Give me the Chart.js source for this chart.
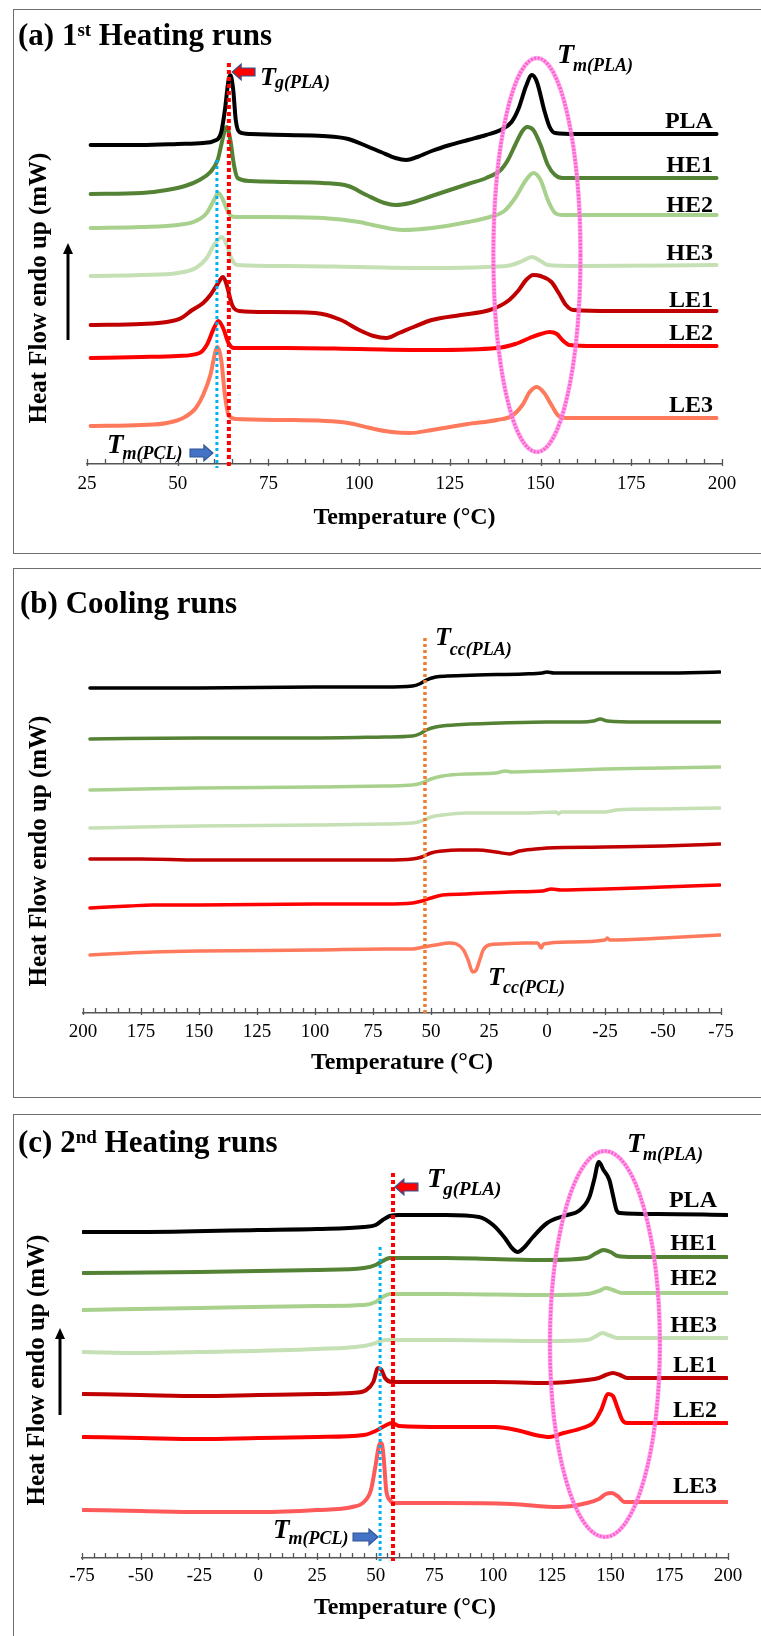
<!DOCTYPE html>
<html>
<head>
<meta charset="utf-8">
<title>DSC curves</title>
<script src="https://cdn.jsdelivr.net/npm/chart.js@4.4.1/dist/chart.umd.min.js"></script>
<style>
  html, body { margin: 0; padding: 0; background: #fff; }
  body { width: 761px; height: 1636px; position: relative; overflow: hidden; }
  .panel { position: absolute; left: 13px; width: 760px; border: 1.5px solid #6e6e6e; box-sizing: border-box; }
  canvas { position: absolute; left: 0; }
</style>
</head>
<body>
<div class="panel" style="top:9px;height:545px"></div>
<div class="panel" style="top:568px;height:530px"></div>
<div class="panel" style="top:1114px;height:540px"></div>
<canvas id="heat1" width="761" height="544" style="top:9px"></canvas>
<canvas id="cooling" width="761" height="529" style="top:568px"></canvas>
<canvas id="heat2" width="761" height="522" style="top:1114px"></canvas>

<script>
const SERIF = "'Liberation Serif', 'Times New Roman', Times, serif";

const SAMPLES = ['PLA', 'HE1', 'HE2', 'HE3', 'LE1', 'LE2', 'LE3'];
const COLORS = ['#000000', '#548235', '#a9d18e', '#c5e0b4', '#c00000', '#ff0000', '#ff7a5c'];
const COLORS_2ND = ['#000000', '#548235', '#a9d18e', '#c5e0b4', '#c00000', '#ff0000', '#ff5a5a'];

// (a) 1st heating, [temperature °C, heat flow a.u. (offset curves)]
const h1PLA = [[26,319],[40,319],[50,320],[57,321],[60,323],[62,332],[63,354],[64,384],[64.5,389],[65.3,374],[66,344],[67,332],[70,330],[80,329],[90,328],[97,325],[102,318],[106,312],[110,306],[113,304],[116,307],[120,313],[125,319],[130,324],[135,329],[139,334],[142,342],[144,356],[146,378],[147.6,389],[149,382],[151,354],[152.5,337],[154,331],[160,330],[170,330],[180,330],[198.5,330]];
const h1HE1 = [[26,270],[40,271],[47,274],[52,278],[56,284],[59,292],[61,304],[62,319],[63,334],[63.5,337],[64.5,324],[65.5,299],[66.5,286],[70,283],[80,282],[90,281],[97,278],[102,269],[107,261],[110,259],[114,261],[120,268],[125,274],[130,280],[135,286],[139,294],[141,304],[143,319],[145,333],[146.3,337],[148,334],[150,319],[152,299],[154,289],[156,286],[170,286],[198.5,286]];
const h1HE2 = [[26,236],[40,237],[50,239],[55,243],[58,251],[60,264],[61.2,271],[62.5,264],[64,251],[65.5,247],[75,247],[90,246],[100,242],[105,238],[112,234],[120,236],[130,242],[136,247],[140,253],[143,266],[146,284],[148,291],[150,284],[152,264],[154,251],[156,249],[170,249],[198.5,249]];
const h1HE3 = [[26,188],[40,189],[50,191],[55,196],[58,206],[60,219],[62.2,227],[63.5,219],[65,204],[66.5,199],[80,198],[100,197],[120,196],[135,197],[142,199],[145,203],[147.6,207],[150,203],[152,199],[160,198],[198.5,199]];
const h1LE1 = [[26,139],[40,140],[47,142],[51,146],[54,154],[57,161],[59,169],[61,180],[62.5,187],[63.5,179],[65,159],[67,153],[75,152],[88,151],[95,144],[100,134],[104,128],[107.5,126],[111,131],[115,137],[120,144],[128,149],[136,154],[141,163],[144,174],[146,184],[148,189],[150,188],[153,182],[155,171],[157,159],[159,154],[170,153],[198.5,153]];
const h1LE2 = [[26,106],[40,107],[50,108],[56,111],[58,119],[60,136],[61.2,143],[62.5,136],[64,121],[65.5,116],[80,116],[100,115],[120,114],[138,116],[143,120],[147,126],[150,130],[152.5,132],[154.5,130],[156,124],[158,119],[165,118],[198.5,118]];
const h1LE3 = [[26,38],[40,39],[47,41],[52,47],[55,56],[57,69],[59,89],[60.5,114],[61,117],[62,104],[63,69],[64,49],[66,45],[80,44],[97,41],[103,36],[109,32],[114,31],[120,34],[130,40],[138,44],[142,48],[145,59],[147,72],[149,77],[151,71],[153,59],[155,48],[157,46],[170,46],[198.5,46]];

// (b) cooling, listed from 200 °C downwards
const cPLA = [[197,325],[175,325],[150,325],[100,326],[70,326],[58,327],[55,329],[52,333],[48,336],[43,337],[30,338],[10,339],[2,340],[0,341],[-3,340],[-20,340],[-50,340],[-74.5,341]];
const cHE1 = [[197,274],[150,275],[100,275],[70,276],[58,277],[55,279],[52,283],[48,286],[40,288],[20,290],[0,291],[-15,291],[-20,292],[-23,294],[-26,292],[-40,291],[-74.5,291]];
const cHE2 = [[197,223],[175,224],[150,225],[100,226],[70,227],[58,228],[54,230],[50,234],[45,237],[35,239],[22,240],[18,242],[15,241],[0,242],[-25,244],[-50,245],[-74.5,246]];
const cHE3 = [[197,185],[175,186],[150,187],[100,188],[70,189],[58,190],[54,192],[50,196],[45,198],[35,200],[10,200],[-4,201],[-5,199],[-6,201],[-25,201],[-30,203],[-50,204],[-74.5,205]];
const cLE1 = [[197,154],[175,154],[150,153],[100,153],[70,153],[58,154],[54,156],[50,160],[45,162],[38,163],[30,163],[22,161],[16,159],[12,162],[5,164],[0,165],[-25,166],[-50,167],[-74.5,169]];
const cLE2 = [[197,105],[180,107],[170,108],[150,108],[100,109],[70,109],[58,110],[54,112],[50,115],[45,118],[35,119],[16,121],[2,122],[-2,124],[-6,123],[-25,124],[-50,126],[-74.5,128]];
const cLE3 = [[197,58],[180,60],[170,61],[150,62],[100,63],[70,64],[58,64],[53,66],[48,68],[42,70],[39,69],[36,63],[34,53],[32,41],[30.5,43],[29,53],[27.5,63],[25,68],[20,69],[10,70],[4,70],[2.5,65],[1.5,69],[-10,71],[-25,73],[-26,75],[-27,73],[-50,75],[-74.5,78]];

// (c) 2nd heating
const h2PLA = [[-74.5,326],[-50,326],[0,328],[25,329],[45,331],[50,333],[53,338],[56,342],[60,343],[80,343],[94,341],[100,333],[105,320],[108,310],[110.5,306],[113,310],[117,321],[123,335],[130,342],[137,348],[141,361],[143,378],[145,396],[147,388],[149.5,378],[151,363],[152.5,348],[154,345],[170,344],[199.5,343]];
const h2HE1 = [[-74.5,285],[-25,286],[25,288],[45,290],[50,293],[53,297],[56,300],[80,300],[100,299],[123,298],[140,300],[144,305],[147,308],[150,306],[153,302],[160,301],[199.5,301]];
const h2HE2 = [[-74.5,248],[-25,250],[25,252],[45,253],[50,256],[53,261],[56,264],[80,264],[123,263],[140,264],[145,267],[148,270],[151,268],[155,265],[199.5,265]];
const h2HE3 = [[-74.5,206],[-50,205],[-25,206],[25,209],[45,212],[50,215],[54,218],[80,218],[123,217],[140,218],[144,222],[146.5,225],[149,223],[153,220],[199.5,220]];
const h2LE1 = [[-74.5,164],[-50,163],[-25,162],[0,163],[25,164],[40,165],[46,168],[49,176],[51,190],[52.5,188],[54,180],[57,176],[70,176],[100,176],[123,175],[140,178],[145,180],[148,183],[151,185],[154,183],[157,180],[170,180],[199.5,180]];
const h2LE2 = [[-74.5,121],[-50,120],[-25,119],[0,120],[25,121],[45,123],[50,127],[53,131],[57,135],[60,132],[80,131],[101,131],[110,128],[118,123],[124,121],[130,125],[138,130],[143,136],[146,148],[149,164],[151,162],[153,150],[155,138],[157,135],[170,135],[199.5,135]];
const h2LE3 = [[-74.5,48],[-50,47],[-25,46],[0,46],[25,48],[40,51],[45,56],[48,68],[50,93],[51.5,113],[52.5,115],[53.5,98],[54.5,68],[56,58],[58,55],[80,55],[108,54],[128,51],[140,55],[145,59],[148,64],[150.5,65],[153,62],[156,56],[170,56],[199.5,56]];

function drawBlockArrow(ctx, x0, x1, y, fill, stroke) {
  const dir = Math.sign(x1 - x0);
  const head = 9 * dir, sh = 4, hh = 8;
  ctx.beginPath();
  ctx.moveTo(x0, y - sh);
  ctx.lineTo(x1 - head, y - sh);
  ctx.lineTo(x1 - head, y - hh);
  ctx.lineTo(x1, y);
  ctx.lineTo(x1 - head, y + hh);
  ctx.lineTo(x1 - head, y + sh);
  ctx.lineTo(x0, y + sh);
  ctx.closePath();
  ctx.fillStyle = fill;
  ctx.fill();
  ctx.setLineDash([]);
  ctx.lineWidth = 1.2;
  ctx.strokeStyle = stroke;
  ctx.stroke();
}

function drawSubLabel(ctx, x, y, main, sub, size, subSize, drop) {
  ctx.fillStyle = '#000';
  ctx.textAlign = 'left';
  ctx.textBaseline = 'alphabetic';
  ctx.font = `italic bold ${size}px ${SERIF}`;
  ctx.fillText(main, x, y);
  const w = ctx.measureText(main).width;
  ctx.font = `italic bold ${subSize}px ${SERIF}`;
  ctx.fillText(sub, x + w - 1, y + drop);
}

const decor = {
  id: 'decor',
  afterDraw(chart, args, o) {
    const { ctx, chartArea: area, scales: { x, y } } = chart;
    const px = v => x.getPixelForValue(v);
    const py = v => y.getPixelForValue(v);
    ctx.save();

    // axis ticks pointing into the plot
    ctx.strokeStyle = '#555';
    ctx.lineWidth = 1.3;
    for (let t = x.min; t <= x.max + 1e-6; t += o.minorStep) {
      const major = Math.abs(t % o.majorStep) < 1e-6;
      const xp = Math.round(px(t)) + 0.5;
      ctx.beginPath();
      ctx.moveTo(xp, area.bottom - 5);
      ctx.lineTo(xp, area.bottom + (major ? 2 : 0));
      ctx.stroke();
    }

    // panel heading
    ctx.fillStyle = '#000';
    ctx.textBaseline = 'alphabetic';
    ctx.textAlign = 'left';
    const [pre, sup, post] = o.heading;
    let hx = o.headingX;
    ctx.font = `bold 31px ${SERIF}`;
    ctx.fillText(pre, hx, o.headingY);
    hx += ctx.measureText(pre).width;
    if (sup) {
      ctx.font = `bold 19px ${SERIF}`;
      ctx.fillText(sup, hx, o.headingY - 9);
      hx += ctx.measureText(sup).width;
    }
    ctx.font = `bold 31px ${SERIF}`;
    ctx.fillText(post, hx, o.headingY);

    // y axis title
    ctx.save();
    ctx.translate(o.yTitleX, o.yTitleY);
    ctx.rotate(-Math.PI / 2);
    ctx.textAlign = 'center';
    ctx.textBaseline = 'middle';
    ctx.font = `bold 25px ${SERIF}`;
    ctx.fillText('Heat Flow endo up (mW)', 0, 0);
    ctx.restore();

    // "endo up" arrow
    if (o.upArrow) {
      const a = o.upArrow;
      ctx.strokeStyle = '#000';
      ctx.lineWidth = 3;
      ctx.beginPath();
      ctx.moveTo(a.x, a.bottom);
      ctx.lineTo(a.x, a.top + 8);
      ctx.stroke();
      ctx.beginPath();
      ctx.moveTo(a.x, a.top);
      ctx.lineTo(a.x - 5, a.top + 11);
      ctx.lineTo(a.x + 5, a.top + 11);
      ctx.closePath();
      ctx.fillStyle = '#000';
      ctx.fill();
    }

    // dotted guide lines
    (o.guides || []).forEach(g => {
      ctx.beginPath();
      ctx.setLineDash(g.dash);
      ctx.lineWidth = g.width;
      ctx.strokeStyle = g.color;
      ctx.moveTo(px(g.t), py(g.from));
      ctx.lineTo(px(g.t), py(g.to));
      ctx.stroke();
    });
    ctx.setLineDash([]);

    // melting region of PLA
    if (o.ellipse) {
      const e = o.ellipse;
      const cx = px(e.t), cy = py(e.q);
      const rx = Math.abs(px(e.t + e.dt) - cx), ry = Math.abs(py(e.q + e.dq) - cy);
      ctx.beginPath();
      ctx.ellipse(cx, cy, rx, ry, 0, 0, Math.PI * 2);
      ctx.lineWidth = 4.5;
      ctx.strokeStyle = 'rgba(255, 140, 225, 0.75)';
      ctx.stroke();
      ctx.setLineDash([2, 1.5]);
      ctx.strokeStyle = '#ff5fd2';
      ctx.lineWidth = 3.2;
      ctx.stroke();
      ctx.setLineDash([]);
    }

    (o.arrows || []).forEach(a => drawBlockArrow(ctx, px(a.from), px(a.to), py(a.q), a.fill, '#2f5597'));

    (o.marks || []).forEach(m => drawSubLabel(ctx, px(m.t), py(m.q), 'T', m.sub, m.size, m.subSize, m.drop));

    // sample names at the right-hand end of each curve
    if (o.names) {
      ctx.fillStyle = '#000';
      ctx.textAlign = 'right';
      ctx.textBaseline = 'alphabetic';
      ctx.font = `bold 24px ${SERIF}`;
      SAMPLES.forEach((s, i) => ctx.fillText(s, px(o.names.t), py(o.names.q[i])));
    }
    ctx.restore();
  }
};

function buildChart(id, series, colors, lineWidth, xOpts, layout, deco) {
  return new Chart(document.getElementById(id), {
    type: 'line',
    data: {
      datasets: series.map((pts, i) => ({
        label: SAMPLES[i],
        data: pts.map(([t, q]) => ({ x: t, y: q })),
        borderColor: colors[i],
        backgroundColor: colors[i],
        borderWidth: lineWidth,
        pointRadius: 0,
        cubicInterpolationMode: 'monotone',
        borderCapStyle: 'round',
        borderJoinStyle: 'round',
        fill: false
      }))
    },
    options: {
      responsive: false,
      animation: false,
      events: [],
      layout: { padding: { top: layout.top, left: layout.left, right: layout.right, bottom: 0 } },
      plugins: { legend: { display: false }, tooltip: { enabled: false }, decor: deco },
      scales: {
        x: {
          type: 'linear',
          min: xOpts.min,
          max: xOpts.max,
          reverse: !!xOpts.reverse,
          afterFit: s => { s.height = layout.axisHeight; },
          grid: { display: false, drawTicks: false },
          border: { display: true, color: '#555', width: 1.5 },
          ticks: {
            stepSize: 25,
            autoSkip: false,
            maxRotation: 0,
            padding: layout.tickPad,
            color: '#000',
            font: { family: SERIF, size: 19 }
          },
          title: {
            display: true,
            text: 'Temperature (°C)',
            color: '#000',
            font: { family: SERIF, size: 24, weight: 'bold' },
            padding: { top: 0, bottom: layout.titlePad }
          }
        },
        y: { display: false, min: 0, max: layout.yMax }
      }
    },
    plugins: [decor]
  });
}

buildChart('heat1', [h1PLA, h1HE1, h1HE2, h1HE3, h1LE1, h1LE2, h1LE3], COLORS, 4,
  { min: 25, max: 200 },
  { top: 35, left: 87, right: 39, axisHeight: 89, tickPad: 9, titlePad: 21, yMax: 420 },
  {
    minorStep: 5, majorStep: 25,
    heading: ['(a) 1', 'st', ' Heating runs'], headingX: 18, headingY: 36,
    yTitleX: 40, yTitleY: 279,
    upArrow: { x: 68, top: 234, bottom: 331 },
    guides: [
      { t: 64.1, from: 401, to: -5, color: '#ff0000', width: 4, dash: [4, 3] },
      { t: 60.8, from: 304, to: -4, color: '#00b0f0', width: 3, dash: [3, 3] }
    ],
    ellipse: { t: 149, q: 209, dt: 12, dq: 197 },
    arrows: [
      { from: 71.3, to: 65.0, q: 392, fill: '#ff0000' },
      { from: 53.4, to: 59.7, q: 11, fill: '#4472c4' }
    ],
    marks: [
      { t: 72.7, q: 379, sub: 'g(PLA)', size: 26, subSize: 18, drop: 3 },
      { t: 154.5, q: 401, sub: 'm(PLA)', size: 28, subSize: 18, drop: 8 },
      { t: 30.5, q: 11, sub: 'm(PCL)', size: 27, subSize: 18, drop: 6 }
    ],
    names: { t: 197.5, q: [336, 292, 252, 204, 157, 124, 52] }
  });

buildChart('cooling', [cPLA, cHE1, cHE2, cHE3, cLE1, cLE2, cLE3], COLORS, 3.5,
  { min: -75, max: 200, reverse: true },
  { top: 45, left: 83, right: 40, axisHeight: 84, tickPad: 8, titlePad: 20, yMax: 400 },
  {
    minorStep: 5, majorStep: 25,
    heading: ['(b) Cooling runs', '', ''], headingX: 20, headingY: 45,
    yTitleX: 40, yTitleY: 283,
    guides: [
      { t: 52.6, from: 375, to: 0, color: '#ed7d31', width: 3.5, dash: [3, 3] }
    ],
    marks: [
      { t: 48.3, q: 368, sub: 'cc(PLA)', size: 26, subSize: 18, drop: 10 },
      { t: 25.4, q: 28, sub: 'cc(PCL)', size: 26, subSize: 18, drop: 8 }
    ]
  });

buildChart('heat2', [h2PLA, h2HE1, h2HE2, h2HE3, h2LE1, h2LE2, h2LE3], COLORS_2ND, 4,
  { min: -75, max: 200 },
  { top: 24, left: 82, right: 33, axisHeight: 78, tickPad: 7, titlePad: 14, yMax: 420 },
  {
    minorStep: 5, majorStep: 25,
    heading: ['(c) 2', 'nd', ' Heating runs'], headingX: 18, headingY: 38,
    yTitleX: 38, yTitleY: 256,
    upArrow: { x: 60, top: 214, bottom: 301 },
    guides: [
      { t: 57.4, from: 385, to: -3, color: '#ff0000', width: 4, dash: [4, 3] },
      { t: 51.9, from: 311, to: -3, color: '#00b0f0', width: 3, dash: [3, 3] }
    ],
    ellipse: { t: 147.6, q: 214, dt: 23.4, dq: 193 },
    arrows: [
      { from: 68.0, to: 58.2, q: 371, fill: '#ff0000' },
      { from: 40.4, to: 51.0, q: 21, fill: '#4472c4' }
    ],
    marks: [
      { t: 71.9, q: 371, sub: 'g(PLA)', size: 28, subSize: 19, drop: 8 },
      { t: 157.0, q: 406, sub: 'm(PLA)', size: 28, subSize: 18, drop: 8 },
      { t: 6.3, q: 20, sub: 'm(PCL)', size: 27, subSize: 18, drop: 6 }
    ],
    names: { t: 195.3, q: [351, 308, 273, 226, 186, 141, 65] }
  });
</script>
</body>
</html>
